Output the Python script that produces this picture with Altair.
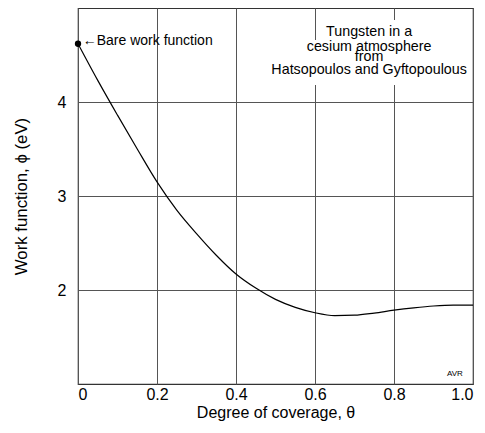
import altair as alt
import pandas as pd

# Degree of coverage (theta) and work function (eV)
coverage = [0.0, 0.05, 0.1, 0.15, 0.2, 0.25, 0.3, 0.35, 0.4, 0.45, 0.5,
            0.55, 0.6, 0.65, 0.7, 0.75, 0.8, 0.85, 0.9, 0.95, 1.0]
work_function = [4.62, 4.23, 3.86, 3.50, 3.15, 2.85, 2.60, 2.37, 2.17, 2.02, 1.90,
                 1.815, 1.758, 1.728, 1.732, 1.755, 1.785, 1.81, 1.83, 1.84, 1.84]

x_ticks = [0, 0.2, 0.4, 0.6, 0.8, 1.0]
y_ticks = [2, 3, 4]

note_lines = ["Tungsten in a", "cesium atmosphere", "from", "Hatsopoulos and Gyftopoulous"]
note_y = [4.748, 4.588, 4.482, 4.34]
bare_label = "\u2190Bare work function"

FONT = "Liberation Sans"

df = pd.DataFrame({"theta": coverage, "phi": work_function})
notes = pd.DataFrame({"text": note_lines, "y": note_y})

xs = alt.Scale(domain=[0, 1], nice=False, zero=False)
ys = alt.Scale(domain=[1, 5], nice=False, zero=False)

x_enc = alt.X("theta:Q", scale=xs, axis=alt.Axis(
    values=x_ticks, title="Degree of coverage, \u03b8",
    labelExpr="datum.value == 0 ? '0' : format(datum.value, '.1f')"))
y_enc = alt.Y("phi:Q", scale=ys, axis=alt.Axis(values=y_ticks, format="d",
                                               title="Work function, \u03d5 (eV)",
                                               titleFontSize=16.8))

curve = alt.Chart(df).mark_line(color="black", strokeWidth=1.2, interpolate="monotone").encode(
    x=x_enc, y=y_enc)

start = alt.Chart(df.head(1)).mark_point(filled=True, color="black", size=40, opacity=1).encode(
    x="theta:Q", y="phi:Q")

bg1 = alt.Chart(df.head(1)).mark_rect(color="white").encode(
    x=alt.datum(0.618), x2=alt.datum(0.858), y=alt.datum(4.872), y2=alt.datum(4.66))
bg2 = alt.Chart(df.head(1)).mark_rect(color="white").encode(
    x=alt.datum(0.481), x2=alt.datum(0.992), y=alt.datum(4.66), y2=alt.datum(4.18))

note = alt.Chart(notes).mark_text(font=FONT, fontSize=14.3, color="black", align="center",
                                  baseline="middle").encode(
    x=alt.datum(0.737), y=alt.Y("y:Q", scale=ys), text="text:N")

bare = alt.Chart(df.head(1)).mark_text(font=FONT, fontSize=14, color="black", align="left",
                                       baseline="middle", text=bare_label).encode(
    x=alt.datum(0.012), y=alt.datum(4.652))

avr = alt.Chart(df.head(1)).mark_text(font=FONT, fontSize=8, color="black", align="center",
                                      baseline="middle", text="AVR").encode(
    x=alt.datum(0.954), y=alt.datum(1.106))

chart = alt.layer(curve, bg1, bg2, start, note, bare, avr).properties(
    width=395, height=376,
    autosize=alt.AutoSizeParams(type="none"),
    padding={"left": 70, "top": 0, "right": 4, "bottom": 41},
).configure_view(
    stroke="#333333", strokeWidth=1.2
).configure_axis(
    grid=True, gridColor="#555555", gridWidth=1, gridOpacity=1,
    domain=False, ticks=False,
    labelFont=FONT, labelFontSize=16, labelColor="black",
    titleFont=FONT, titleFontSize=16, titleFontWeight="normal", titleColor="black",
).configure_axisX(
    labelPadding=2, titlePadding=2
).configure_axisY(
    labelPadding=12, titlePadding=27
)

chart.save("out.html", embed_options={"renderer": "svg", "actions": False})
